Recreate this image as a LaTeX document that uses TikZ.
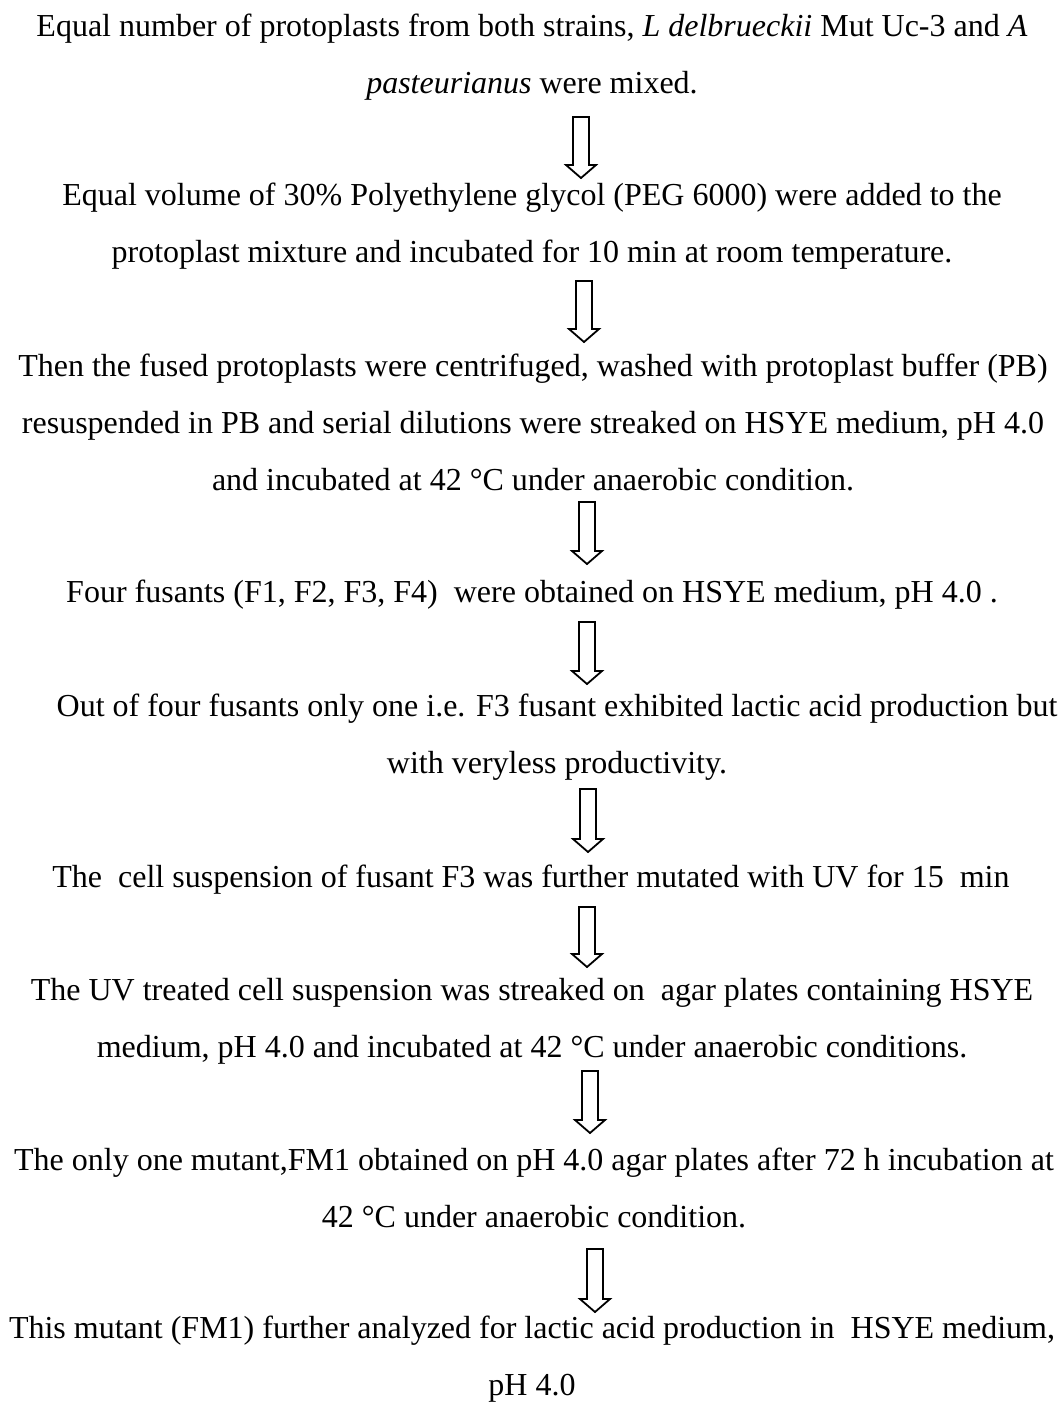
\documentclass[tikz,border=0pt]{standalone}
\usepackage{fontspec}
\setmainfont{Liberation Serif}
\usetikzlibrary{calc}
\begin{document}
\begin{tikzpicture}[x=1pt,y=-1pt,
  stepbox/.style={align=center,inner sep=0pt,font=\fontsize{32}{57}\selectfont},
  hollowarrow/.style={line width=1.8pt,draw=black,fill=white,
    to path={($(\tikztostart)+(-8,0)$) -- ($(\tikztotarget)+(-8,-13)$) -- ($(\tikztotarget)+(-15,-13)$) -- (\tikztotarget) -- ($(\tikztotarget)+(15,-13)$) -- ($(\tikztotarget)+(8,-13)$) -- ($(\tikztostart)+(8,0)$) -- cycle}}]
\useasboundingbox (0,0) rectangle (1062,1402);
\fill[white] (0,0) rectangle (1062,1402);

\node[stepbox] (s1) at (532,54) {\strut Equal number of protoplasts from both strains, \textit{L delbrueckii} Mut Uc-3 and \textit{A}\\\strut\textit{pasteurianus} were mixed.};
\node[stepbox] (s2) at (532,223) {\strut Equal volume of 30\% Polyethylene glycol (PEG 6000) were added to the\\\strut protoplast mixture and incubated for 10 min at room temperature.};
\node[stepbox] (s3) at (533,422) {\strut Then the fused protoplasts were centrifuged, washed with protoplast buffer (PB)\\\strut resuspended in PB and serial dilutions were streaked on HSYE medium, pH 4.0\\\strut and incubated at 42 °C under anaerobic condition.};
\node[stepbox] (s4) at (532,591) {\strut Four fusants (F1, F2, F3, F4)\ \ were obtained on HSYE medium, pH 4.0 .};
\node[stepbox] (s5) at (557,734) {\strut Out of four fusants only one i.e. F3 fusant exhibited lactic acid production but\\\strut with veryless productivity.};
\node[stepbox] (s6) at (531,876) {\strut The\ \ cell suspension of fusant F3 was further mutated with UV for 15\ \ min};
\node[stepbox] (s7) at (532,1018) {\strut The UV treated cell suspension was streaked on\ \ agar plates containing HSYE\\\strut medium, pH 4.0 and incubated at 42 °C under anaerobic conditions.};
\node[stepbox] (s8) at (534,1188) {\strut The only one mutant,FM1 obtained on pH 4.0 agar plates after 72 h incubation at\\\strut 42 °C under anaerobic condition.};
\node[stepbox] (s9) at (532,1356) {\strut This mutant (FM1) further analyzed for lactic acid production in\ \ HSYE medium,\\\strut pH 4.0};

\coordinate (a1s) at (581,117);  \coordinate (a1e) at (581,178);
\coordinate (a2s) at (584,281);  \coordinate (a2e) at (584,342);
\coordinate (a3s) at (587,502);  \coordinate (a3e) at (587,564);
\coordinate (a4s) at (587,622);  \coordinate (a4e) at (587,684);
\coordinate (a5s) at (588,789);  \coordinate (a5e) at (588,852);
\coordinate (a6s) at (587,907);  \coordinate (a6e) at (587,967);
\coordinate (a7s) at (590,1071); \coordinate (a7e) at (590,1133);
\coordinate (a8s) at (595,1249); \coordinate (a8e) at (595,1312);
\foreach \i in {1,...,8} {\draw[hollowarrow] (a\i s) to (a\i e);}
\end{tikzpicture}
\end{document}
